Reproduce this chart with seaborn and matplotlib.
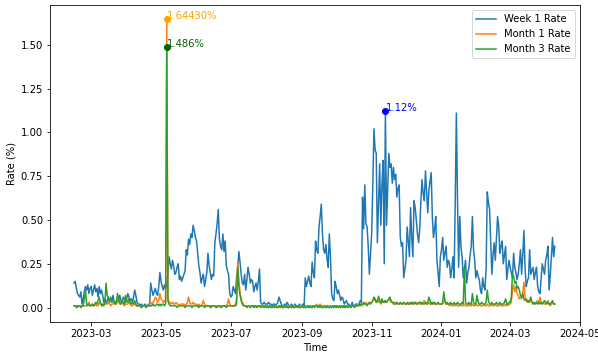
import numpy as np
import pandas as pd
import matplotlib
matplotlib.use("Agg")
import matplotlib.pyplot as plt
import matplotlib.dates as mdates
import seaborn as sns

start_date = "2023-02-14"

week1_rate = [
    # Feb
    0.14, 0.15, 0.11, 0.08, 0.07, 0.06, 0.09, 0.02, 0.05, 0.09, 0.12, 0.10, 0.13, 0.08, 0.11,
    # Mar
    0.12, 0.07, 0.10, 0.13, 0.09, 0.11, 0.06, 0.12, 0.08, 0.10, 0.07, 0.03, 0.05, 0.02, 0.04,
    0.06, 0.03, 0.05, 0.04, 0.07, 0.03, 0.02, 0.04, 0.03, 0.05, 0.07, 0.04, 0.03, 0.06, 0.05, 0.03,
    # Apr
    0.05, 0.08, 0.06, 0.04, 0.05, 0.03, 0.06, 0.10, 0.07, 0.03, 0.02, 0.02, 0.01, 0.02, 0.01,
    0.01, 0.02, 0.01, 0.01, 0.02, 0.01, 0.14, 0.10, 0.07, 0.09, 0.11, 0.08, 0.07, 0.12, 0.20,
    # May
    0.15, 0.12, 0.10, 0.13, 0.11, 0.12, 0.20, 0.29, 0.25, 0.22, 0.27, 0.24, 0.19, 0.20, 0.23,
    0.25, 0.16, 0.18, 0.15, 0.17, 0.19, 0.21, 0.33, 0.30, 0.39, 0.36, 0.42, 0.40, 0.47, 0.44, 0.40,
    # Jun
    0.38, 0.31, 0.24, 0.20, 0.14, 0.17, 0.19, 0.12, 0.16, 0.20, 0.31, 0.24, 0.20, 0.16, 0.19,
    0.18, 0.37, 0.42, 0.48, 0.56, 0.39, 0.35, 0.33, 0.42, 0.32, 0.38, 0.24, 0.21, 0.19, 0.08,
    # Jul
    0.06, 0.07, 0.12, 0.10, 0.08, 0.17, 0.23, 0.32, 0.26, 0.19, 0.14, 0.13, 0.19, 0.10, 0.16,
    0.23, 0.19, 0.14, 0.16, 0.15, 0.09, 0.12, 0.14, 0.10, 0.15, 0.22, 0.03, 0.02, 0.02, 0.03, 0.02,
    # Aug
    0.02, 0.02, 0.03, 0.02, 0.02, 0.01, 0.02, 0.02, 0.01, 0.02, 0.03, 0.06, 0.04, 0.02, 0.01,
    0.01, 0.02, 0.01, 0.03, 0.02, 0.01, 0.01, 0.02, 0.01, 0.01, 0.02, 0.01, 0.01, 0.01, 0.02, 0.01,
    # Sep
    0.01, 0.02, 0.01, 0.17, 0.12, 0.15, 0.18, 0.14, 0.12, 0.26, 0.20, 0.17, 0.38, 0.33, 0.31,
    0.46, 0.52, 0.59, 0.42, 0.33, 0.31, 0.36, 0.28, 0.23, 0.42, 0.29, 0.08, 0.05, 0.04, 0.15,
    # Oct
    0.12, 0.08, 0.10, 0.07, 0.04, 0.06, 0.05, 0.02, 0.03, 0.04, 0.02, 0.02, 0.01, 0.01, 0.03,
    0.01, 0.01, 0.02, 0.02, 0.01, 0.02, 0.04, 0.03, 0.63, 0.45, 0.70, 0.48, 0.46, 0.35, 0.19, 0.30,
    # Nov
    0.42, 0.70, 1.02, 0.90, 0.88, 0.37, 0.60, 0.82, 0.47, 0.70, 0.84, 0.25, 1.12, 0.47, 0.68,
    0.88, 0.80, 0.82, 0.71, 0.80, 0.73, 0.76, 0.63, 0.68, 0.70, 0.40, 0.35, 0.37, 0.17, 0.22,
    # Dec
    0.27, 0.46, 0.38, 0.29, 0.57, 0.40, 0.29, 0.61, 0.57, 0.50, 0.42, 0.37, 0.45, 0.61, 0.73,
    0.65, 0.61, 0.78, 0.66, 0.54, 0.67, 0.72, 0.77, 0.52, 0.40, 0.45, 0.52, 0.27, 0.20, 0.12, 0.29,
    # Jan
    0.33, 0.40, 0.27, 0.31, 0.35, 0.23, 0.27, 0.25, 0.17, 0.22, 0.29, 0.17, 0.60, 1.11, 0.61,
    0.23, 0.52, 0.35, 0.29, 0.17, 0.22, 0.27, 0.14, 0.20, 0.23, 0.30, 0.35, 0.52, 0.33, 0.27, 0.17,
    # Feb
    0.21, 0.18, 0.16, 0.10, 0.08, 0.17, 0.12, 0.10, 0.23, 0.66, 0.60, 0.56, 0.37, 0.19, 0.30,
    0.37, 0.27, 0.40, 0.52, 0.46, 0.31, 0.35, 0.38, 0.25, 0.30, 0.35, 0.16, 0.22, 0.27,
    # Mar
    0.23, 0.20, 0.17, 0.31, 0.23, 0.20, 0.16, 0.19, 0.25, 0.33, 0.19, 0.30, 0.44, 0.23, 0.12,
    0.15, 0.17, 0.33, 0.19, 0.21, 0.23, 0.16, 0.20, 0.23, 0.12, 0.09, 0.08, 0.16, 0.25, 0.22, 0.19,
    # Apr
    0.27, 0.30, 0.35, 0.10, 0.18, 0.29, 0.40, 0.29, 0.35,
]

month1_rate = [
    # Feb
    0.01, 0.01, 0.01, 0.00, 0.01, 0.01, 0.01, 0.01, 0.01, 0.01, 0.01, 0.01, 0.02, 0.03, 0.01,
    # Mar
    0.01, 0.02, 0.01, 0.01, 0.02, 0.01, 0.01, 0.03, 0.02, 0.02, 0.01, 0.02, 0.03, 0.02, 0.02,
    0.03, 0.02, 0.01, 0.02, 0.02, 0.03, 0.02, 0.02, 0.04, 0.03, 0.02, 0.02, 0.03, 0.02, 0.01, 0.02,
    # Apr
    0.02, 0.02, 0.03, 0.02, 0.01, 0.01, 0.02, 0.02, 0.01, 0.01, 0.01, 0.01, 0.01, 0.00, 0.01,
    0.01, 0.01, 0.01, 0.01, 0.01, 0.02, 0.03, 0.02, 0.03, 0.04, 0.06, 0.05, 0.03, 0.04, 0.08,
    # May
    0.05, 0.04, 0.03, 0.04, 0.03, 1.6443, 0.06, 0.03, 0.03, 0.02, 0.03, 0.02, 0.02, 0.03, 0.02,
    0.02, 0.01, 0.02, 0.02, 0.02, 0.02, 0.01, 0.02, 0.03, 0.06, 0.03, 0.02, 0.02, 0.03, 0.02, 0.02,
    # Jun
    0.02, 0.01, 0.02, 0.01, 0.01, 0.02, 0.04, 0.02, 0.01, 0.01, 0.01, 0.01, 0.01, 0.00, 0.01,
    0.01, 0.01, 0.01, 0.00, 0.01, 0.01, 0.01, 0.00, 0.01, 0.01, 0.01, 0.01, 0.02, 0.05, 0.02,
    # Jul
    0.01, 0.01, 0.01, 0.01, 0.02, 0.05, 0.26, 0.15, 0.09, 0.05, 0.03, 0.02, 0.01, 0.01, 0.01,
    0.01, 0.01, 0.00, 0.01, 0.01, 0.01, 0.01, 0.00, 0.01, 0.01, 0.01, 0.01, 0.01, 0.00, 0.01, 0.01,
    # Aug
    0.01, 0.00, 0.01, 0.01, 0.01, 0.00, 0.01, 0.01, 0.01, 0.01, 0.00, 0.01, 0.01, 0.01, 0.00,
    0.01, 0.01, 0.01, 0.01, 0.00, 0.01, 0.01, 0.01, 0.00, 0.01, 0.01, 0.01, 0.01, 0.00, 0.01, 0.01,
    # Sep
    0.01, 0.01, 0.00, 0.01, 0.01, 0.01, 0.01, 0.00, 0.01, 0.01, 0.01, 0.01, 0.01, 0.02, 0.01,
    0.01, 0.02, 0.01, 0.01, 0.01, 0.01, 0.00, 0.01, 0.01, 0.01, 0.01, 0.00, 0.01, 0.01, 0.01,
    # Oct
    0.01, 0.01, 0.00, 0.01, 0.01, 0.01, 0.01, 0.00, 0.01, 0.01, 0.01, 0.01, 0.00, 0.01, 0.01,
    0.01, 0.01, 0.01, 0.01, 0.02, 0.01, 0.02, 0.02, 0.01, 0.02, 0.02, 0.03, 0.02, 0.02, 0.03, 0.02,
    # Nov
    0.03, 0.04, 0.05, 0.04, 0.03, 0.03, 0.04, 0.03, 0.02, 0.03, 0.03, 0.04, 0.03, 0.03, 0.04,
    0.05, 0.04, 0.03, 0.03, 0.02, 0.03, 0.02, 0.03, 0.02, 0.02, 0.03, 0.02, 0.02, 0.03, 0.02,
    # Dec
    0.02, 0.02, 0.03, 0.02, 0.02, 0.03, 0.02, 0.02, 0.03, 0.03, 0.02, 0.02, 0.03, 0.02, 0.02,
    0.03, 0.04, 0.03, 0.02, 0.02, 0.03, 0.02, 0.02, 0.02, 0.03, 0.02, 0.02, 0.02, 0.03, 0.02, 0.02,
    # Jan
    0.02, 0.02, 0.03, 0.04, 0.02, 0.02, 0.02, 0.01, 0.02, 0.01, 0.01, 0.02, 0.01, 0.02, 0.01,
    0.01, 0.01, 0.02, 0.01, 0.01, 0.02, 0.01, 0.01, 0.01, 0.02, 0.01, 0.01, 0.02, 0.01, 0.01, 0.02,
    # Feb
    0.01, 0.01, 0.02, 0.01, 0.01, 0.01, 0.02, 0.01, 0.01, 0.02, 0.01, 0.01, 0.01, 0.02, 0.01,
    0.01, 0.02, 0.01, 0.01, 0.01, 0.02, 0.01, 0.01, 0.01, 0.02, 0.01, 0.02, 0.01, 0.02,
    # Mar
    0.02, 0.03, 0.10, 0.13, 0.09, 0.12, 0.08, 0.07, 0.05, 0.06, 0.05, 0.08, 0.145, 0.06, 0.04,
    0.03, 0.04, 0.03, 0.05, 0.03, 0.02, 0.03, 0.02, 0.03, 0.04, 0.03, 0.06, 0.03, 0.02, 0.03, 0.02,
    # Apr
    0.02, 0.03, 0.04, 0.02, 0.01, 0.02, 0.03, 0.02, 0.02,
]

month3_rate = [
    # Feb
    0.01, 0.01, 0.00, 0.01, 0.01, 0.01, 0.00, 0.01, 0.01, 0.05, 0.10, 0.02, 0.01, 0.02, 0.01,
    # Mar
    0.01, 0.02, 0.01, 0.02, 0.03, 0.02, 0.04, 0.06, 0.03, 0.01, 0.02, 0.01, 0.03, 0.14, 0.07,
    0.05, 0.04, 0.06, 0.03, 0.04, 0.03, 0.02, 0.03, 0.08, 0.05, 0.03, 0.02, 0.04, 0.03, 0.02, 0.07,
    # Apr
    0.04, 0.03, 0.05, 0.03, 0.02, 0.03, 0.02, 0.04, 0.02, 0.01, 0.01, 0.01, 0.01, 0.00, 0.01,
    0.01, 0.01, 0.00, 0.01, 0.01, 0.01, 0.01, 0.01, 0.02, 0.01, 0.01, 0.02, 0.02, 0.01, 0.02,
    # May
    0.01, 0.02, 0.02, 0.01, 0.02, 1.486, 0.04, 0.02, 0.01, 0.01, 0.01, 0.01, 0.01, 0.01, 0.00,
    0.01, 0.01, 0.01, 0.01, 0.01, 0.01, 0.00, 0.01, 0.01, 0.01, 0.01, 0.01, 0.00, 0.01, 0.01, 0.01,
    # Jun
    0.01, 0.01, 0.00, 0.01, 0.01, 0.01, 0.01, 0.00, 0.01, 0.01, 0.01, 0.01, 0.00, 0.01, 0.01,
    0.01, 0.01, 0.00, 0.01, 0.01, 0.01, 0.00, 0.01, 0.01, 0.01, 0.01, 0.00, 0.01, 0.01, 0.01,
    # Jul
    0.01, 0.01, 0.01, 0.01, 0.01, 0.02, 0.23, 0.12, 0.07, 0.04, 0.02, 0.01, 0.01, 0.01, 0.00,
    0.01, 0.01, 0.00, 0.01, 0.01, 0.00, 0.01, 0.01, 0.00, 0.01, 0.01, 0.00, 0.01, 0.01, 0.00, 0.01,
    # Aug
    0.00, 0.01, 0.00, 0.01, 0.00, 0.00, 0.01, 0.00, 0.01, 0.00, 0.00, 0.01, 0.00, 0.01, 0.00,
    0.00, 0.01, 0.00, 0.01, 0.00, 0.00, 0.01, 0.00, 0.01, 0.00, 0.00, 0.01, 0.00, 0.01, 0.00, 0.00,
    # Sep
    0.01, 0.00, 0.01, 0.00, 0.00, 0.01, 0.00, 0.01, 0.00, 0.00, 0.01, 0.00, 0.01, 0.01, 0.00,
    0.01, 0.00, 0.01, 0.00, 0.00, 0.01, 0.00, 0.01, 0.00, 0.00, 0.01, 0.00, 0.01, 0.00, 0.01,
    # Oct
    0.00, 0.01, 0.00, 0.01, 0.00, 0.01, 0.00, 0.01, 0.00, 0.01, 0.00, 0.01, 0.01, 0.00, 0.01,
    0.01, 0.00, 0.01, 0.01, 0.01, 0.02, 0.01, 0.02, 0.02, 0.03, 0.02, 0.02, 0.01, 0.02, 0.03, 0.02,
    # Nov
    0.03, 0.04, 0.06, 0.05, 0.03, 0.04, 0.065, 0.04, 0.03, 0.05, 0.03, 0.03, 0.04, 0.03, 0.04,
    0.05, 0.06, 0.04, 0.03, 0.03, 0.02, 0.02, 0.03, 0.02, 0.02, 0.03, 0.02, 0.02, 0.03, 0.02,
    # Dec
    0.02, 0.03, 0.02, 0.02, 0.03, 0.02, 0.03, 0.02, 0.03, 0.02, 0.02, 0.03, 0.03, 0.02, 0.03,
    0.02, 0.02, 0.03, 0.02, 0.03, 0.06, 0.04, 0.02, 0.03, 0.02, 0.03, 0.02, 0.02, 0.03, 0.02, 0.02,
    # Jan
    0.02, 0.03, 0.09, 0.04, 0.02, 0.03, 0.02, 0.02, 0.03, 0.02, 0.02, 0.03, 0.02, 0.02, 0.03,
    0.02, 0.02, 0.02, 0.03, 0.02, 0.23, 0.03, 0.02, 0.02, 0.03, 0.02, 0.02, 0.08, 0.03, 0.02, 0.02,
    # Feb
    0.07, 0.03, 0.02, 0.02, 0.03, 0.02, 0.02, 0.02, 0.03, 0.10, 0.04, 0.02, 0.02, 0.03, 0.02,
    0.02, 0.02, 0.03, 0.02, 0.02, 0.03, 0.02, 0.02, 0.02, 0.03, 0.05, 0.02, 0.02, 0.03,
    # Mar
    0.03, 0.06, 0.19, 0.18, 0.14, 0.15, 0.11, 0.12, 0.10, 0.07, 0.06, 0.08, 0.05, 0.04, 0.05,
    0.04, 0.03, 0.04, 0.06, 0.03, 0.02, 0.03, 0.02, 0.03, 0.02, 0.03, 0.02, 0.03, 0.02, 0.03, 0.04,
    # Apr
    0.03, 0.02, 0.03, 0.02, 0.02, 0.03, 0.04, 0.02, 0.02,
]

series_names = ["Week 1 Rate", "Month 1 Rate", "Month 3 Rate"]
peak_colors = ["blue", "orange", "darkgreen"]
peak_formats = ["{:.2f}%", "{:.5f}%", "{:.3f}%"]

n = min(len(week1_rate), len(month1_rate), len(month3_rate))
dates = pd.date_range(start_date, periods=n, freq="D")

wide = pd.DataFrame({
    "Time": dates,
    series_names[0]: week1_rate[:n],
    series_names[1]: month1_rate[:n],
    series_names[2]: month3_rate[:n],
})
long_df = wide.melt(id_vars="Time", var_name="Series", value_name="Rate")

W, H, DPI = 598, 353, 72
fig = plt.figure(figsize=(W / DPI, H / DPI), dpi=DPI)
ax = fig.add_axes([50 / W, 1 - 322 / H, 530 / W, 317 / H])

sns.lineplot(data=long_df, x="Time", y="Rate", hue="Series",
             palette=["tab:blue", "tab:orange", "tab:green"], ax=ax, linewidth=1.5)

# mark and label the peak of each series
for name, col, fmt in zip(series_names, peak_colors, peak_formats):
    i = wide[name].idxmax()
    t, v = wide.loc[i, "Time"], wide.loc[i, name]
    ax.plot([t], [v], "o", color=col, markersize=6, zorder=5)
    ax.text(t, v, fmt.format(v), color=col, fontsize=10)

ax.set_xlim(pd.Timestamp("2023-01-24"), pd.Timestamp("2024-05-01"))
ax.xaxis.set_major_locator(mdates.MonthLocator(bymonth=[1, 3, 5, 7, 9, 11]))
ax.xaxis.set_major_formatter(mdates.DateFormatter("%Y-%m"))
ax.set_xlabel("Time")
ax.set_ylabel("Rate (%)")
ax.legend(loc="upper right")

fig.savefig("out.png", dpi=DPI)
